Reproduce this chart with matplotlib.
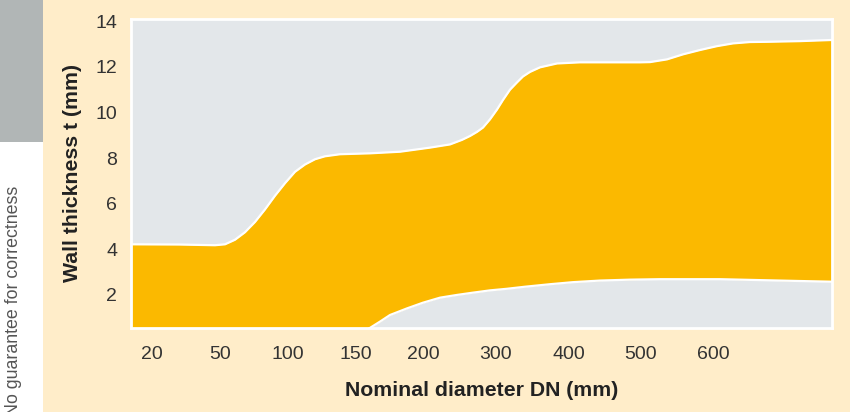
import matplotlib
matplotlib.use("Agg")
import matplotlib.pyplot as plt
import matplotlib.patches as mpatches
import numpy as np

# Colours
CREAM = "#FFEDC9"
PANEL = "#E3E7EA"
YELLOW = "#FBB900"
GREY_BLOCK = "#B1B6B6"
TEXT = "#333333"

# x axis: position along the chart (arbitrary units, ~1 unit per pixel)
DN_LABELS = ["20", "50", "100", "150", "200", "300", "400", "500", "600"]
DN_POS = [21, 89, 157, 225, 292, 365, 438, 510, 582]
X_MAX = 701

# upper limit of wall thickness band (mm)
upper_x = [0, 49, 84, 94, 104, 114, 124, 134, 144, 154, 164, 174, 184, 194,
           209, 239, 269, 299, 319, 331, 339, 346, 352, 359, 366, 372, 379,
           386, 392, 399, 409, 426, 449, 509, 519, 536, 552, 569, 586, 602,
           619, 636, 669, 701]
upper_t = [4.22, 4.21, 4.18, 4.22, 4.42, 4.75, 5.2, 5.75, 6.35, 6.9, 7.4,
           7.72, 7.95, 8.08, 8.17, 8.21, 8.28, 8.46, 8.6, 8.8, 8.97, 9.15,
           9.34, 9.7, 10.13, 10.55, 11.0, 11.32, 11.58, 11.78, 11.98, 12.15,
           12.2, 12.2, 12.21, 12.33, 12.55, 12.74, 12.91, 13.03, 13.09, 13.1,
           13.13, 13.18]

# lower limit of wall thickness band (mm)
lower_x = [0, 237, 249, 259, 276, 292, 309, 326, 342, 359, 376, 394, 419,
           442, 469, 499, 529, 589, 629, 669, 701]
lower_t = [0.5, 0.5, 0.83, 1.12, 1.41, 1.66, 1.88, 2.0, 2.1, 2.2, 2.27,
           2.36, 2.47, 2.56, 2.63, 2.67, 2.69, 2.69, 2.65, 2.61, 2.58]

Y_TICKS = [2, 4, 6, 8, 10, 12, 14]

plt.rcParams["font.family"] = ["Liberation Sans", "DejaVu Sans"]

W, H = 850, 412
fig = plt.figure(figsize=(W / 100, H / 100), dpi=100)
fig.patch.set_facecolor(CREAM)

# left white strip with grey block on top
fig.patches.append(mpatches.Rectangle((0, 0), 43 / W, 1, transform=fig.transFigure,
                                      facecolor="white", edgecolor="none", zorder=0))
fig.patches.append(mpatches.Rectangle((0, 1 - 142 / H), 43 / W, 142 / H,
                                      transform=fig.transFigure,
                                      facecolor=GREY_BLOCK, edgecolor="none", zorder=0))
fig.text(14 / W, 1 - 186 / H, "No guarantee for correctness", rotation=90,
         ha="center", va="top", fontsize=12.8, color="#555555")

ax = fig.add_axes([131 / W, 1 - 328 / H, 701 / W, 309 / H])
ax.set_facecolor(PANEL)

# common x grid so fill_between can use both limits
xs = sorted(set(upper_x) | set(lower_x))
up = np.interp(xs, upper_x, upper_t)
lo = np.interp(xs, lower_x, lower_t)
ax.fill_between(xs, lo, up, color=YELLOW, linewidth=0, zorder=2)
ax.plot(upper_x, upper_t, color="white", linewidth=1.6, zorder=3,
        solid_joinstyle="round")
ax.plot(lower_x, lower_t, color="white", linewidth=1.6, zorder=3,
        solid_joinstyle="round")

ax.set_xlim(0, X_MAX)
ax.set_ylim(0.55, 14.1)
ax.set_xticks(DN_POS)
ax.set_xticklabels(DN_LABELS)
ax.set_yticks(Y_TICKS)
ax.tick_params(length=0, labelsize=14, colors=TEXT)
ax.tick_params(axis="x", pad=13)
ax.tick_params(axis="y", pad=10)
for s in ax.spines.values():
    s.set_color("white")
    s.set_linewidth(2)
    s.set_zorder(4)

fig.text(482 / W, 1 - 390 / H, "Nominal diameter DN (mm)", ha="center",
         va="center", fontsize=15.3, fontweight="bold", color="#222222")
fig.text(72 / W, 1 - 173 / H, "Wall thickness t (mm)", rotation=90, ha="center",
         va="center", fontsize=15.3, fontweight="bold", color="#222222")

fig.savefig("out.png", dpi=100, facecolor=fig.get_facecolor())
